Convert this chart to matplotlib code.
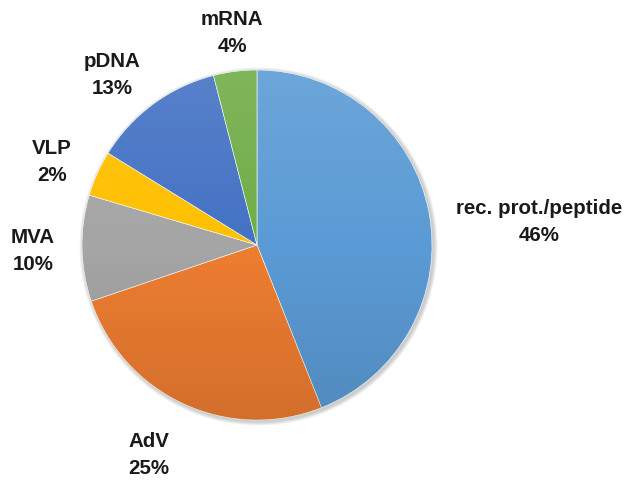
import matplotlib
import matplotlib.pyplot as plt
import numpy as np
from matplotlib.patches import Circle

matplotlib.use("Agg")
plt.rcParams["font.family"] = ["Liberation Sans", "DejaVu Sans"]

# Data (clockwise from 12 o'clock)
categories = ["rec. prot./peptide", "AdV", "MVA", "VLP", "pDNA", "mRNA"]
pct_labels = ["46%", "25%", "10%", "2%", "13%", "4%"]
shares = [44.0, 25.8, 9.8, 4.2, 12.2, 4.0]
colors = ["#5B9BD5", "#ED7D31", "#A5A5A5", "#FFC000", "#4472C4", "#70AD47"]

# label placement (pixel layout, y measured from top)
label_pos = [(539, 222), (149, 455), (33, 251), (52, 162), (112, 75), (232, 33)]

W, H = 627, 482
CX, CY, R = 257, H - 245, 175

fig = plt.figure(figsize=(W / 100, H / 100), dpi=100)
ax = fig.add_axes([0, 0, 1, 1])

# soft shadow
for i in range(4):
    ax.add_patch(Circle((CX + 1.5, CY - 1.5), R + 4 - i, color="black",
                        alpha=0.05, lw=0, zorder=0))

wedges, _ = ax.pie(shares, colors=colors, startangle=90, counterclock=False,
                   center=(CX, CY), radius=R, frame=True,
                   wedgeprops=dict(linewidth=0.4, edgecolor="white"))
ax.set_xlim(0, W)
ax.set_ylim(0, H)
ax.set_aspect("equal")
ax.axis("off")

# vertical light-to-dark gradient over the pie
grad = np.linspace(0, 1, 256)[:, None]
rgba = np.zeros((256, 1, 4))
rgba[..., :3] = np.where(grad > 0.5, 1.0, 0.0)[..., None]
rgba[..., 3] = np.abs(grad - 0.5) * 0.22
img = ax.imshow(rgba, extent=(CX - R, CX + R, CY - R, CY + R),
                origin="lower", aspect="auto", zorder=3,
                interpolation="bilinear")
img.set_clip_path(Circle((CX, CY), R, transform=ax.transData))

for name, pct, (x, y) in zip(categories, pct_labels, label_pos):
    ax.text(x, H - y, f"{name}\n{pct}", ha="center", va="center",
            fontsize=14.8, fontweight="bold", linespacing=1.5,
            color="#1a1a1a")

fig.savefig("out.png", dpi=100, facecolor="white")
